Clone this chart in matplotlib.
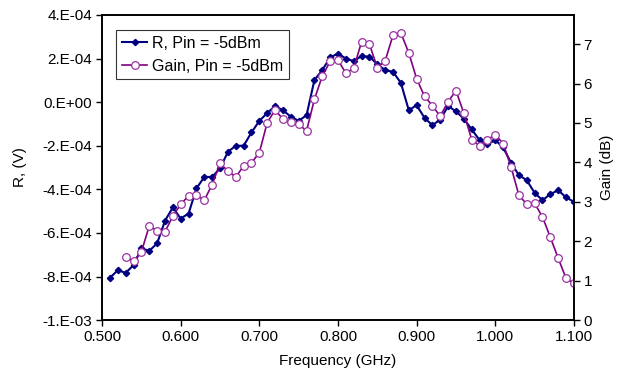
import numpy as np
import matplotlib
matplotlib.use('Agg')
import matplotlib.pyplot as plt
from matplotlib.ticker import FuncFormatter

plt.rcParams['font.family'] = ['Liberation Sans', 'DejaVu Sans']

# frequency points (GHz)
freq_r = np.round(np.arange(0.51, 1.105, 0.01), 2)
freq_gain = np.round(np.arange(0.53, 1.105, 0.01), 2)

# R in units of 1E-4 V
r_vals = [-8.06, -7.71, -7.83, -7.48, -6.71, -6.82, -6.48, -5.44, -4.83, -5.34,
          -5.11, -3.96, -3.43, -3.43, -3.04, -2.28, -2.00, -2.00, -1.39, -0.86,
          -0.50, -0.18, -0.37, -0.67, -0.86, -0.60, 1.01, 1.47, 2.05, 2.23,
          2.00, 1.88, 2.12, 2.08, 1.74, 1.47, 1.39, 0.88, -0.37, -0.14,
          -0.72, -1.06, -0.80, -0.18, -0.42, -0.76, -1.25, -1.74, -1.94, -1.74,
          -2.08, -2.78, -3.35, -3.58, -4.16, -4.50, -4.22, -4.04, -4.37, -4.57]
r_vals = np.array(r_vals) * 1e-4

# gain in dB
gain_vals = [1.59, 1.50, 1.73, 2.39, 2.27, 2.24, 2.64, 2.94, 3.15, 3.17,
             3.04, 3.44, 3.98, 3.78, 3.63, 3.91, 3.99, 4.25, 5.01, 5.33,
             5.10, 5.03, 4.97, 4.80, 5.60, 6.19, 6.56, 6.60, 6.26, 6.39,
             7.06, 7.00, 6.40, 6.58, 7.23, 7.28, 6.78, 6.12, 5.68, 5.44,
             5.17, 5.54, 5.82, 5.25, 4.58, 4.42, 4.58, 4.70, 4.48, 3.89,
             3.17, 2.94, 2.96, 2.62, 2.10, 1.57, 1.06, 0.93]

fig = plt.figure(figsize=(6.3, 3.74), dpi=100)
ax = fig.add_axes([0.162, 0.144, 0.749, 0.816])
ax2 = ax.twinx()

l1, = ax.plot(freq_r, r_vals, color='#000080', lw=1.5, marker='D', ms=3.2,
              mfc='#000080', mec='#000080', label='R, Pin = -5dBm')
l2, = ax2.plot(freq_gain, gain_vals, color='#800080', lw=1.2, marker='o', ms=5.5,
               mfc='white', mec='#9933a0', mew=0.9, label='Gain, Pin = -5dBm')

ax.set_xlim(0.5, 1.1)
ax.set_ylim(-1e-3, 4e-4)
ax2.set_ylim(0, 7.74)
ax.set_xticks(np.arange(0.5, 1.105, 0.1))
ax.set_yticks(np.arange(-10, 5, 2) * 1e-4)
ax2.set_yticks(range(0, 8))

def sci(v, pos):
    s = '%.0E' % v
    mant, exp = s.split('E')
    return mant + '.E' + exp

ax.yaxis.set_major_formatter(FuncFormatter(sci))
ax.xaxis.set_major_formatter(FuncFormatter(lambda v, p: '%.3f' % v))

for a in (ax, ax2):
    a.tick_params(direction='out', length=4, width=1, labelsize=11, pad=3)
    for s in a.spines.values():
        s.set_linewidth(1.2)

ax.set_xlabel('Frequency (GHz)', fontsize=11, labelpad=7)
ax.set_ylabel('R, (V)', fontsize=11, labelpad=11)
ax2.set_ylabel('Gain (dB)', fontsize=11, labelpad=6)

leg = ax2.legend(handles=[l1, l2], loc='upper left', bbox_to_anchor=(0.03, 0.95),
                 fontsize=11.5, frameon=True, fancybox=False, edgecolor='black',
                 borderpad=0.35, handlelength=1.6, handletextpad=0.3, labelspacing=0.5,
                 borderaxespad=0)
leg.get_frame().set_linewidth(0.8)

fig.savefig('out.png', dpi=100)
